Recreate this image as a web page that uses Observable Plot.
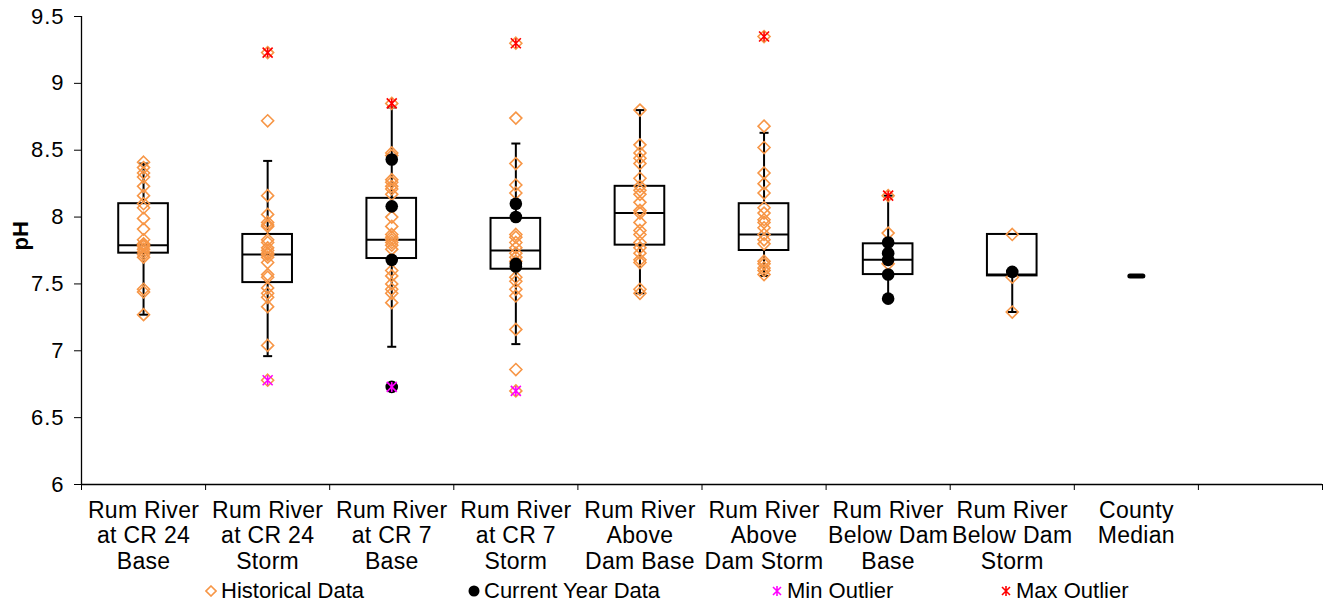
<!DOCTYPE html>
<html><head><meta charset="utf-8">
<script src="https://cdn.jsdelivr.net/npm/d3@7"></script>
<script src="https://cdn.jsdelivr.net/npm/@observablehq/plot@0.6"></script>
<style>
body{margin:0;background:#fff;font-family:"Liberation Sans",Arial,sans-serif;color:#000;}
#wrap{position:relative;width:1325px;height:604px;overflow:hidden;}
#legend{position:absolute;left:0;top:577px;width:1325px;height:27px;font-size:22px;}
.item{position:absolute;top:0;height:27px;display:flex;align-items:center;white-space:nowrap;}
.item svg{margin-right:4px;}
.ytick text{letter-spacing:1px;}
.xlab text{letter-spacing:0.3px;}
</style></head>
<body><div id="wrap"><div id="chart"></div><div id="legend"></div></div>
<script>
// ---------- data ----------
const categories = [
  "Rum River\nat CR 24\nBase",
  "Rum River\nat CR 24\nStorm",
  "Rum River\nat CR 7\nBase",
  "Rum River\nat CR 7\nStorm",
  "Rum River\nAbove\nDam Base",
  "Rum River\nAbove\nDam Storm",
  "Rum River\nBelow Dam\nBase",
  "Rum River\nBelow Dam\nStorm",
  "County\nMedian"
];
const q1           = [7.73, 7.51, 7.69, 7.61, 7.79, 7.75, 7.57, 7.56];
const median       = [7.79, 7.72, 7.83, 7.75, 8.03, 7.87, 7.68, 7.57];
const q3           = [8.10, 7.87, 8.14, 7.99, 8.23, 8.10, 7.80, 7.87];
const whiskerLow   = [7.27, 6.96, 7.03, 7.05, 7.43, 7.56, 7.39, 7.29];
const whiskerHigh  = [8.40, 8.42, 8.82, 8.55, 8.80, 8.63, 8.16, 7.87];
const historical = [
  [8.41, 8.37, 8.33, 8.30, 8.23, 8.16, 8.10, 8.07, 7.99, 7.91, 7.83, 7.80, 7.79, 7.78, 7.76, 7.74, 7.72, 7.70, 7.46, 7.44, 7.27],
  [9.23, 8.72, 8.16, 8.02, 7.96, 7.94, 7.93, 7.83, 7.81, 7.77, 7.75, 7.73, 7.72, 7.70, 7.66, 7.57, 7.55, 7.47, 7.43, 7.40, 7.33, 7.04, 6.78],
  [8.85, 8.48, 8.46, 8.28, 8.26, 8.23, 8.21, 8.17, 8.00, 7.93, 7.87, 7.85, 7.83, 7.81, 7.79, 7.76, 7.60, 7.56, 7.50, 7.46, 7.43, 7.36],
  [9.30, 8.74, 8.40, 8.24, 8.18, 7.87, 7.85, 7.81, 7.77, 7.73, 7.70, 7.67, 7.55, 7.52, 7.46, 7.41, 7.16, 6.86, 6.70],
  [8.80, 8.54, 8.48, 8.44, 8.40, 8.29, 8.23, 8.20, 8.17, 8.11, 8.05, 8.03, 7.96, 7.90, 7.87, 7.81, 7.77, 7.73, 7.68, 7.66, 7.46, 7.43],
  [9.35, 8.68, 8.52, 8.33, 8.25, 8.18, 8.07, 8.03, 7.98, 7.96, 7.92, 7.87, 7.83, 7.80, 7.67, 7.65, 7.62, 7.60, 7.57],
  [8.16, 7.88, 7.65],
  [7.87, 7.55, 7.29],
  []
];
const currentYear = [
  [], [], [8.43, 8.08, 7.68, 6.73], [8.10, 8.00, 7.65, 7.63], [], [], [7.81, 7.73, 7.68, 7.57, 7.39], [7.59], []
];
const minOutlier = [null, 6.78, 6.73, 6.70, null, null, null, null, null];
const maxOutlier = [null, 9.23, 8.85, 9.30, null, 9.35, 8.16, null, null];
const countyMedian = [{i: 8, v: 7.56}];
const yTicks = [6, 6.5, 7, 7.5, 8, 8.5, 9, 9.5];
const slotCount = 10;

// ---------- tables ----------
const boxes = q1.map((_, i) => ({i, q1: q1[i], median: median[i], q3: q3[i], lo: whiskerLow[i], hi: whiskerHigh[i]}));
const histRows = historical.flatMap((vals, i) => vals.map(v => ({i, v})));
const curRows = currentYear.flatMap((vals, i) => vals.map(v => ({i, v})));
const minRows = minOutlier.map((v, i) => ({i, v})).filter(d => d.v != null);
const maxRows = maxOutlier.map((v, i) => ({i, v})).filter(d => d.v != null);
const capRows = boxes.flatMap(b => [
  ...(b.hi > b.q3 ? [{i: b.i, v: b.hi}] : []),
  ...(b.lo < b.q1 ? [{i: b.i, v: b.lo}] : [])
]);
const boxHalf = 0.2;
const cx = d => d.i + 0.5;

const hline = {draw(ctx, size) { const r = Math.sqrt(size / Math.PI); ctx.moveTo(-r, 0); ctx.lineTo(r, 0); }};
const star = {draw(ctx, size) {
  const r = Math.sqrt(size / Math.PI);
  ctx.moveTo(0, -r); ctx.lineTo(0, r);
  ctx.moveTo(-r, -r); ctx.lineTo(r, r);
  ctx.moveTo(-r, r); ctx.lineTo(r, -r);
}};

const orange = "#F79646";

const chart = Plot.plot({
  width: 1325,
  height: 577,
  marginLeft: 81,
  marginRight: 3,
  marginTop: 16,
  marginBottom: 93,
  style: {fontFamily: "'Liberation Sans', Arial, sans-serif", fontSize: "22px", color: "#000", background: "#fff", overflow: "visible"},
  x: {type: "linear", domain: [0, slotCount]},
  y: {domain: [6, 9.5]},
  marks: [
    // whiskers
    Plot.ruleX(boxes.filter(b => b.hi > b.q3), {x: cx, y1: "q3", y2: "hi", stroke: "#000", strokeWidth: 2}),
    Plot.ruleX(boxes.filter(b => b.lo < b.q1), {x: cx, y1: "q1", y2: "lo", stroke: "#000", strokeWidth: 2}),
    Plot.dot(capRows, {x: cx, y: "v", symbol: hline, r: 4.5, stroke: "#000", strokeWidth: 2, fill: "none"}),
    // boxes
    Plot.rect(boxes, {x1: d => d.i + 0.5 - boxHalf, x2: d => d.i + 0.5 + boxHalf, y1: "q1", y2: "q3", fill: "none", stroke: "#000", strokeWidth: 2}),
    Plot.ruleY(boxes, {x1: d => d.i + 0.5 - boxHalf, x2: d => d.i + 0.5 + boxHalf, y: "median", stroke: "#000", strokeWidth: 2}),
    // points
    Plot.dot(histRows, {x: cx, y: "v", symbol: "diamond2", r: 5.4, stroke: orange, strokeWidth: 1.6, fill: "none"}),
    Plot.dot(curRows, {x: cx, y: "v", r: 6.3, fill: "#000", stroke: "none"}),
    Plot.dot(countyMedian, {x: cx, y: "v", symbol: hline, r: 6.5, stroke: "#000", strokeWidth: 5, strokeLinecap: "round", fill: "none"}),
    Plot.dot(minRows, {x: cx, y: "v", symbol: star, r: 5, stroke: "#FF00FF", strokeWidth: 1.6, fill: "none"}),
    Plot.dot(maxRows, {x: cx, y: "v", symbol: star, r: 5, stroke: "#FF0000", strokeWidth: 1.6, fill: "none"}),
    // axes
    Plot.ruleX([0], {stroke: "#000", strokeWidth: 1.3}),
    Plot.ruleY([6], {stroke: "#000", strokeWidth: 1.3}),
    Plot.axisY({ticks: yTicks, tickFormat: d => String(d), tickSize: 7, tickPadding: 10, fontSize: 22, label: null, stroke: "#000", className: "ytick"}),
    Plot.axisX({ticks: d3.range(slotCount + 1), tickFormat: () => "", tickSize: 6, label: null, stroke: "#000"}),
    Plot.text(categories, {x: (d, i) => i + 0.5, frameAnchor: "bottom", lineAnchor: "top", dy: 15, fontSize: 23, lineHeight: 1.11, fill: "#000", className: "xlab"}),
    Plot.text(["pH"], {frameAnchor: "left", rotate: -90, dx: -61, fontSize: 22, fontWeight: "bold", fill: "#000"})
  ]
});
document.getElementById("chart").appendChild(chart);

// ---------- legend ----------
const legendItems = [
  {label: "Historical Data", left: 205, sym: `<path d="M5,0L10,5L5,10L0,5Z" fill="none" stroke="${orange}" stroke-width="1.6" transform="translate(1,1)"/>`},
  {label: "Current Year Data", left: 468, sym: `<circle cx="6" cy="6" r="5.5" fill="#000"/>`},
  {label: "Min Outlier", left: 771, sym: `<path d="M6,1V11M2,2L10,10M2,10L10,2" stroke="#FF00FF" stroke-width="1.6" fill="none"/>`},
  {label: "Max Outlier", left: 1000, sym: `<path d="M6,1V11M2,2L10,10M2,10L10,2" stroke="#FF0000" stroke-width="1.6" fill="none"/>`}
];
const legend = document.getElementById("legend");
for (const it of legendItems) {
  const div = document.createElement("div");
  div.className = "item";
  div.style.left = it.left + "px";
  div.innerHTML = `<svg width="12" height="12" viewBox="0 0 12 12">${it.sym}</svg><span>${it.label}</span>`;
  legend.appendChild(div);
}
</script>
</body></html>
